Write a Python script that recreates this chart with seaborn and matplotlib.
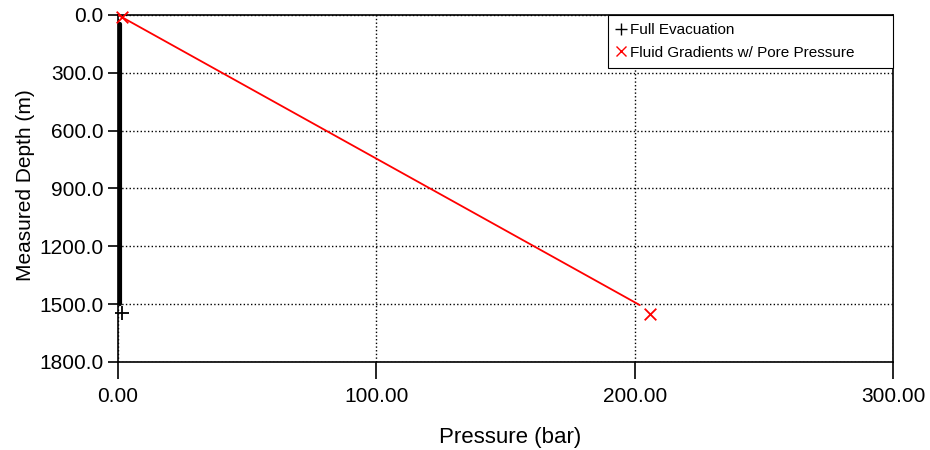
## Pressure vs measured depth: full evacuation and fluid gradient lines.

import numpy as np
import pandas as pd
import matplotlib
matplotlib.use('Agg')
import matplotlib.pyplot as plt
import seaborn as sns
from matplotlib.lines import Line2D

# Full evacuation line and end marker
evac_pressure = [0.8, 0.8]
evac_depth = [45, 1500]
evac_mark_pressure = [1.5]
evac_mark_depth = [1545]

# Fluid gradients with pore pressure
fluid_pressure = [0.0, 202.0]
fluid_depth = [0, 1505]
fluid_mark_pressure = [1.4, 206.0]
fluid_mark_depth = [9, 1551]

x_ticks = [0, 100, 200, 300]
y_ticks = [0, 300, 600, 900, 1200, 1500, 1800]

sns.set_style('white')
plt.rcParams['font.family'] = ['Liberation Sans', 'DejaVu Sans']
plt.rcParams['text.color'] = 'black'
plt.rcParams['axes.labelcolor'] = 'black'
plt.rcParams['xtick.color'] = 'black'
plt.rcParams['ytick.color'] = 'black'

fig = plt.figure(figsize=(9.3, 4.5), dpi=100)
ax = fig.add_axes([0.1269, 0.1956, 0.8333, 0.7711])

evac = pd.DataFrame({'p': evac_pressure, 'd': evac_depth})
fluid = pd.DataFrame({'p': fluid_pressure, 'd': fluid_depth})

sns.lineplot(data=evac, x='p', y='d', color='black', linewidth=3, sort=False,
             estimator=None, ax=ax, zorder=4, clip_on=False)
sns.lineplot(data=fluid, x='p', y='d', color='red', linewidth=1.3, sort=False,
             estimator=None, ax=ax, zorder=5)
sns.scatterplot(x=evac_mark_pressure, y=evac_mark_depth, marker='+', color='black', s=90,
                linewidth=1.3, ax=ax, zorder=6, clip_on=False)
sns.scatterplot(x=fluid_mark_pressure, y=fluid_mark_depth, marker='x', color='red', s=70,
                linewidth=1.3, ax=ax, zorder=6, clip_on=False)

ax.set_xlim(0, 300)
ax.set_ylim(1800, 0)
ax.set_xticks(x_ticks)
ax.set_yticks(y_ticks)
ax.set_xticklabels([f"{v:.2f}" for v in x_ticks], fontsize=15)
ax.set_yticklabels([f"{v:.1f}" for v in y_ticks], fontsize=15)
ax.tick_params(bottom=True, left=True, direction='out', width=1.2, color='black')
ax.tick_params(axis='x', length=12, pad=6)
ax.tick_params(axis='y', length=7.5, pad=3)
ax.grid(True, linestyle=':', color='black', linewidth=1)
for s in ax.spines.values():
    s.set_color('black')
    s.set_linewidth(1.2)

ax.set_xlabel('Pressure (bar)', fontsize=16, labelpad=15)
ax.xaxis.label.set_x(0.506)
ax.set_ylabel('Measured Depth (m)', fontsize=15, labelpad=3)
ax.yaxis.label.set_y(0.51)

# legend
handles = [
    Line2D([], [], color='black', marker='+', linestyle='None', markersize=8),
    Line2D([], [], color='red', marker='x', linestyle='None', markersize=7),
]
leg = ax.legend(handles, ['Full Evacuation', 'Fluid Gradients w/ Pore Pressure       '],
                loc='upper right', bbox_to_anchor=(1.0, 1.0), borderaxespad=0,
                fontsize=11, frameon=True, fancybox=False, framealpha=1,
                handlelength=0.6, handletextpad=0.3, borderpad=0.55, labelspacing=0.55)
leg.get_frame().set_edgecolor('black')
leg.get_frame().set_linewidth(0.8)
leg.set_zorder(10)

fig.savefig('out.png', dpi=100)
